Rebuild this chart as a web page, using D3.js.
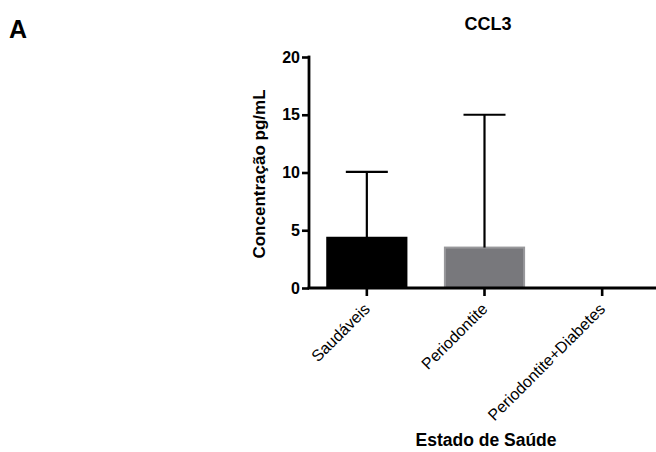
<!DOCTYPE html>
<html>
<head>
<meta charset="utf-8">
<script src="https://cdn.jsdelivr.net/npm/d3@7"></script>
<style>
  html, body { margin: 0; padding: 0; background: #fff; }
  svg { display: block; font-family: "Liberation Sans", Arial, Helvetica, sans-serif; }
</style>
</head>
<body>
<svg id="chart" width="656" height="452"></svg>
<script>
// CCL3 concentration by health status (mean + SD)
const groups = ["Saudáveis", "Periodontite", "Periodontite+Diabetes"];
const means = [4.35, 3.5, 0];
const errors = [5.7, 11.5, 0];
const barColors = ["#000000", "#78787c", "#000000"];
const barStrokes = ["#000000", "#98989b", "#000000"];
const yTicks = [0, 5, 10, 15, 20];

const svg = d3.select("#chart");

const x = d3.scaleBand()
  .domain(groups)
  .range([308, 661])
  .paddingInner(0.31)
  .paddingOuter(0.155);

const y = d3.scaleLinear().domain([0, 20]).range([288, 57]);

// bars
svg.append("g").selectAll("rect")
  .data(groups)
  .join("rect")
  .attr("x", d => x(d) + 1)
  .attr("width", x.bandwidth() - 2)
  .attr("y", (d, i) => y(means[i]))
  .attr("height", (d, i) => y(0) - y(means[i]))
  .attr("fill", (d, i) => barColors[i])
  .attr("stroke", (d, i) => barStrokes[i])
  .attr("stroke-width", 2);

// error bars (upper only)
const eb = svg.append("g").attr("stroke", "#000").attr("stroke-width", 2.2).attr("fill", "none");
groups.forEach((g, i) => {
  if (errors[i] <= 0) return;
  const cx = x(g) + x.bandwidth() / 2;
  eb.append("line")
    .attr("x1", cx).attr("x2", cx)
    .attr("y1", y(means[i])).attr("y2", y(means[i] + errors[i]));
  eb.append("line")
    .attr("x1", cx - 21).attr("x2", cx + 21)
    .attr("y1", y(means[i] + errors[i])).attr("y2", y(means[i] + errors[i]));
});

// y axis
const yAxis = svg.append("g")
  .attr("transform", "translate(309,0)")
  .call(d3.axisLeft(y).tickValues(yTicks).tickSize(7).tickPadding(2).tickSizeOuter(0));
yAxis.select(".domain").attr("stroke", "#000").attr("stroke-width", 2.8)
  .attr("d", `M0,${y(20) - 1.4}V${y(0)}`);
yAxis.selectAll(".tick line").attr("stroke", "#000").attr("stroke-width", 2.6);
yAxis.selectAll(".tick text")
  .attr("fill", "#000")
  .style("font-size", "16px")
  .style("font-weight", "bold")
  .style("font-family", "'Liberation Sans', Arial, sans-serif");

// x axis
const xAxis = svg.append("g")
  .attr("transform", `translate(0,${y(0)})`)
  .call(d3.axisBottom(x).tickSize(8).tickSizeOuter(0));
xAxis.select(".domain").attr("stroke", "#000").attr("stroke-width", 2.8)
  .attr("d", "M307.6,0H656");
xAxis.selectAll(".tick line").attr("stroke", "#000").attr("stroke-width", 2.6);
xAxis.selectAll(".tick text")
  .attr("fill", "#000")
  .style("font-size", "16px")
  .style("font-family", "'Liberation Sans', Arial, sans-serif")
  .attr("text-anchor", "end")
  .attr("dy", null)
  .attr("y", 0)
  .attr("transform", "translate(4,22) rotate(-45)");

// titles
svg.append("text")
  .attr("x", 9).attr("y", 38)
  .style("font-size", "25px").style("font-weight", "bold")
  .text("A");

svg.append("text")
  .attr("x", 488).attr("y", 30)
  .attr("text-anchor", "middle")
  .style("font-size", "18px").style("font-weight", "bold")
  .text("CCL3");

svg.append("text")
  .attr("transform", "translate(265,174) rotate(-90)")
  .attr("text-anchor", "middle")
  .style("font-size", "17px").style("font-weight", "bold")
  .text("Concentração pg/mL");

svg.append("text")
  .attr("x", 486).attr("y", 446)
  .attr("text-anchor", "middle")
  .style("font-size", "17.5px").style("font-weight", "bold")
  .text("Estado de Saúde");
</script>
</body>
</html>
